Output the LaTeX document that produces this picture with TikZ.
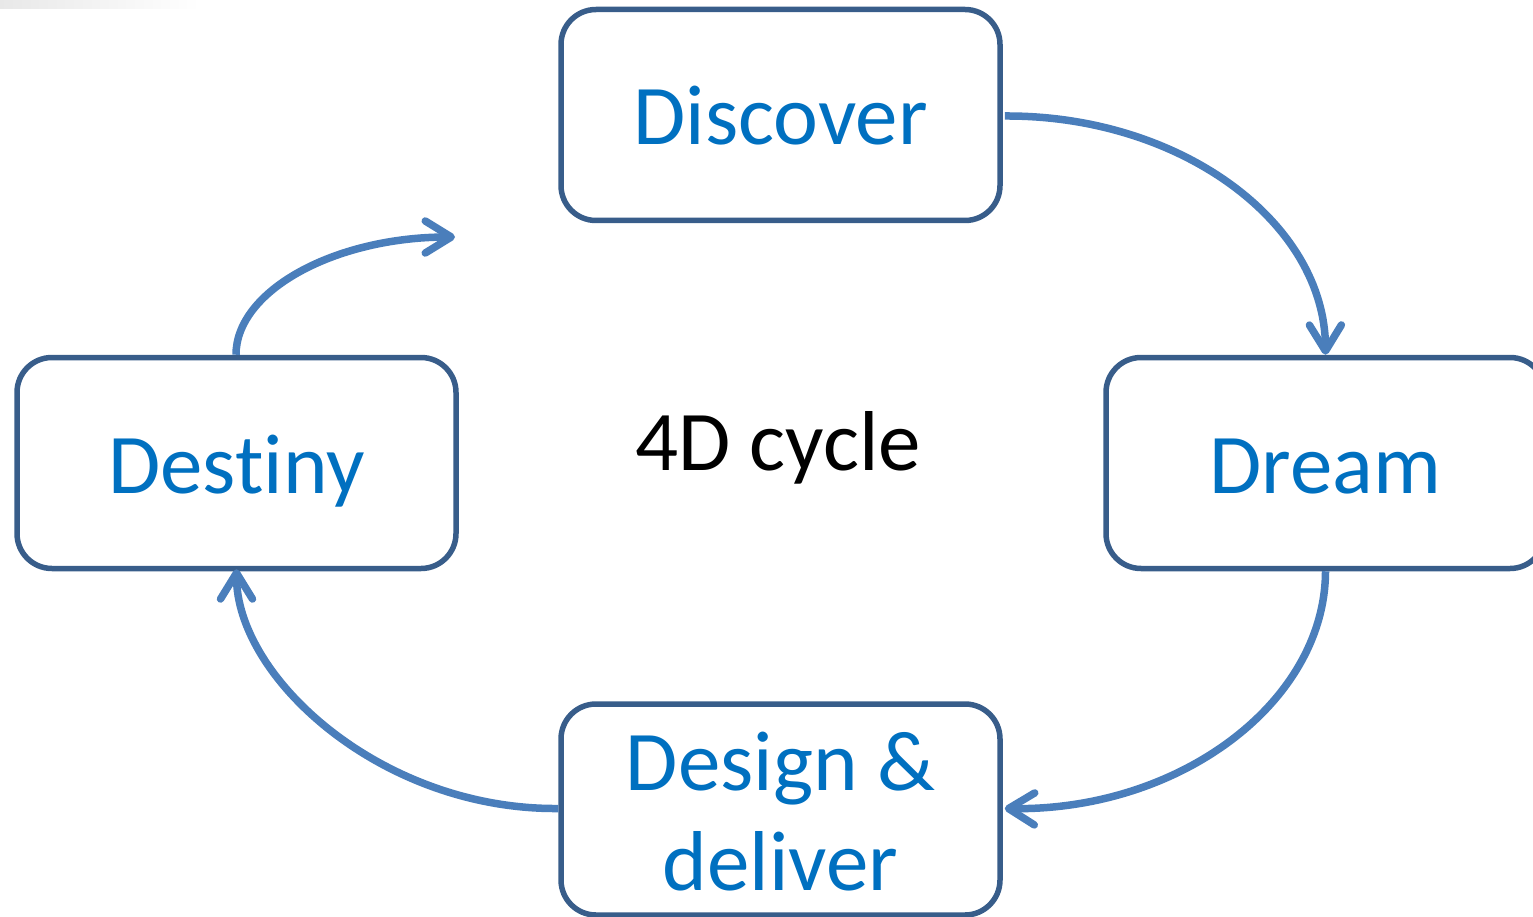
\documentclass[tikz,border=0pt]{standalone}
\usepackage{fontspec}
\setmainfont[Ligatures=NoCommon]{Carlito}
\usetikzlibrary{arrows.meta}
\definecolor{boxline}{HTML}{385D8A}
\definecolor{flow}{HTML}{4A7EBB}
\definecolor{label}{HTML}{0070C0}
\tikzset{
  phase/.style={draw=boxline, line width=5.5pt, rounded corners=35pt, fill=white,
    minimum width=439pt, minimum height=211pt, inner sep=0pt,
    text=label, font=\fontsize{85}{100}\selectfont, align=center},
  oneline/.style={text height=60pt, text depth=0pt},
  cycle/.style={draw=flow, line width=7.5pt,
    -{Straight Barb[length=26pt, width=32pt, line cap=round, line join=round]}},
}
\begin{document}
\begin{tikzpicture}[x=1pt, y=-1pt]
  \useasboundingbox (0,0) rectangle (1533,917);
  \clip (0,0) rectangle (1533,917);
  % faint strip along the top left edge
  \shade[left color=black!9, right color=white] (0,0) rectangle (200,9);

  % the four phases
  \node[phase, oneline] (discover) at (780.5,115) {Discover};
  \node[phase, oneline] (dream)    at (1325.5,463)  {Dream};
  \node[phase, text height=161pt, text depth=0pt] (design) at (780.5,809.5) {Design \&\\deliver};
  \node[phase, oneline] (destiny)  at (236.5,463)   {Destiny};

  % centre title
  \node[font=\fontsize{85}{100}\selectfont, text height=55pt, text depth=0pt,
        inner sep=0pt] (title) at (778,443) {4D cycle};

  % loose end of the last arrow
  \coordinate (restart) at (455,237);

  % arrows around the cycle
  \draw[cycle] ([yshift=-1pt]discover.east) ++(2,0)
     .. controls (1180,115) and (1325,222) .. (dream.north);
  \draw[cycle] (dream.south)
     .. controls (1325,702) and (1180,811) .. ([xshift=2pt, yshift=1pt]design.east);
  \draw[cycle] ([yshift=1pt]design.west)
     .. controls (382,810) and (236.5,678) .. ([yshift=2pt]destiny.south);
  \draw[cycle] ([xshift=-0.5pt]destiny.north)
     .. controls (236,291) and (334,237) .. (restart);
\end{tikzpicture}
\end{document}
